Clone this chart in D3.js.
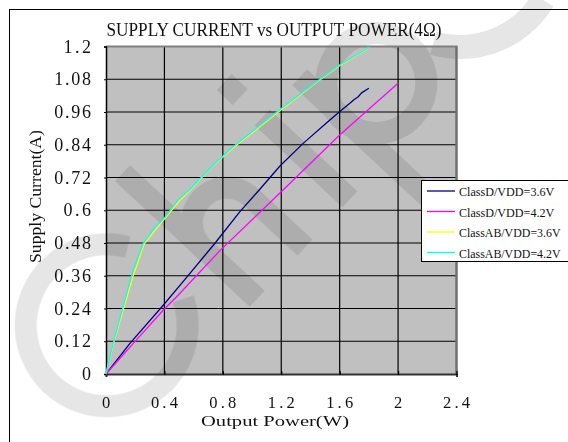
<!DOCTYPE html>
<html><head><meta charset="utf-8">
<script src="https://cdn.jsdelivr.net/npm/d3@7/dist/d3.min.js"></script>
<style>html,body{margin:0;padding:0;background:#fff;overflow:hidden}</style>
</head><body>
<script>
const titleText = "SUPPLY CURRENT vs OUTPUT POWER(4Ω)";
const xTitle = "Output Power(W)";
const yTitle = "Supply Current(A)";
const xTicks = [0, 0.4, 0.8, 1.2, 1.6, 2, 2.4];
const yTicks = [0, 0.12, 0.24, 0.36, 0.48, 0.6, 0.72, 0.84, 0.96, 1.08, 1.2];
const seriesNames = ["ClassD/VDD=3.6V", "ClassD/VDD=4.2V", "ClassAB/VDD=3.6V", "ClassAB/VDD=4.2V"];
const seriesColors = ["#000080", "#ff00ff", "#ffff00", "#00ffff"];

const classD36P = [0, 0.164, 0.392, 0.552, 0.746, 0.917, 1.049, 1.191, 1.35, 1.533, 1.613, 1.67, 1.70, 1.727, 1.75, 1.80];
const classD36I = [0, 0.112, 0.252, 0.354, 0.479, 0.595, 0.674, 0.762, 0.845, 0.931, 0.967, 0.992, 1.006, 1.016, 1.030, 1.047];
const classD42P = [0, 0.187, 0.404, 0.484, 0.78, 1.2, 1.6, 2.0];
const classD42I = [0, 0.112, 0.241, 0.283, 0.452, 0.668, 0.876, 1.065];
const classAB36P = [0, 0.05, 0.18, 0.26, 0.34, 0.40, 0.50, 0.57, 0.73, 0.87, 1.20, 1.44, 1.60, 1.80];
const classAB36I = [0, 0.11, 0.35, 0.475, 0.53, 0.568, 0.633, 0.67, 0.762, 0.828, 0.968, 1.068, 1.13, 1.195];
const classAB42P = [0, 0.05, 0.185, 0.255, 0.335, 0.40, 0.495, 0.57, 0.734, 0.871, 1.202, 1.442, 1.60, 1.807];
const classAB42I = [0, 0.115, 0.38, 0.479, 0.537, 0.572, 0.638, 0.674, 0.766, 0.833, 0.974, 1.071, 1.132, 1.198];

const seriesP = [classD36P, classD42P, classAB36P, classAB42P];
const seriesI = [classD36I, classD42I, classAB36I, classAB42I];

const W = 568, H = 442;
const svg = d3.select("body").append("svg").attr("width", W).attr("height", H);
svg.append("rect").attr("width", W).attr("height", H).attr("fill", "#fff");
svg.append("rect").attr("x", 9.5).attr("y", 9.5).attr("width", 700).attr("height", 600)
  .attr("fill", "none").attr("stroke", "#000").attr("stroke-width", 1);

const x = d3.scaleLinear().domain([0, 2.4]).range([106, 456.5]);
const y = d3.scaleLinear().domain([0, 1.2]).range([374, 46.5]);

// plot background
svg.append("rect").attr("x", x(0)).attr("y", y(1.2)).attr("width", x(2.4) - x(0)).attr("height", y(0) - y(1.2))
  .attr("fill", "#c0c0c0");

// watermark (logo shapes, semi-transparent)
const wmG = svg.append("g").attr("opacity", 0.1);
const wm = wmG.append("g").attr("transform", "translate(174,388) rotate(-47)");
const arcC = d3.arc().innerRadius(70).outerRadius(92).startAngle((90 + 28) * Math.PI / 180).endAngle((90 + 332) * Math.PI / 180);
wm.append("path").attr("transform", "translate(0,-92)").attr("d", arcC()).attr("fill", "#000");
wm.append("rect").attr("x", 111).attr("y", -184).attr("width", 22).attr("height", 184).attr("fill", "#000");
wm.append("rect").attr("x", 181).attr("y", -76).attr("width", 22).attr("height", 76).attr("fill", "#000");
const arcH = d3.arc().innerRadius(24).outerRadius(46).startAngle(-Math.PI / 2).endAngle(Math.PI / 2);
wm.append("path").attr("transform", "translate(157,-74)").attr("d", arcH()).attr("fill", "#000");
wm.append("rect").attr("x", 247).attr("y", -120).attr("width", 22).attr("height", 120).attr("fill", "#000");
wm.append("rect").attr("x", 247).attr("y", -172).attr("width", 22).attr("height", 22).attr("fill", "#000");
wm.append("rect").attr("x", 302).attr("y", -120).attr("width", 22).attr("height", 180).attr("fill", "#000");
const arcP = d3.arc().innerRadius(39).outerRadius(61).startAngle(0).endAngle(2 * Math.PI);
wm.append("path").attr("transform", "translate(361,-60)").attr("d", arcP()).attr("fill", "#000");
const arcS = d3.arc().innerRadius(85).outerRadius(109).startAngle((90 + 31) * Math.PI / 180).endAngle((90 + 106) * Math.PI / 180);
wmG.append("path").attr("transform", "translate(460,-50)").attr("d", arcS()).attr("fill", "#000");

// grid
const grid = svg.append("g");
grid.selectAll(".gx").data(xTicks.slice(1, -1)).join("line")
  .attr("x1", d => x(d)).attr("x2", d => x(d)).attr("y1", y(1.2)).attr("y2", y(0))
  .attr("stroke", "#000").attr("stroke-width", 1.2);
grid.selectAll(".gy").data(yTicks.slice(1, -1)).join("line")
  .attr("x1", x(0)).attr("x2", x(2.4)).attr("y1", d => y(d)).attr("y2", d => y(d))
  .attr("stroke", "#000").attr("stroke-width", 1.2);

// plot border
svg.append("line").attr("x1", x(0)).attr("x2", x(2.4) + 1).attr("y1", y(1.2)).attr("y2", y(1.2)).attr("stroke", "#808080").attr("stroke-width", 2);
svg.append("line").attr("x1", x(2.4)).attr("x2", x(2.4)).attr("y1", y(1.2)).attr("y2", y(0)).attr("stroke", "#707070").attr("stroke-width", 2.5);

// axes
const xAxis = d3.axisBottom(x).tickValues(xTicks).tickSize(3).tickFormat("");
const yAxis = d3.axisLeft(y).tickValues(yTicks).tickSize(2).tickFormat("");
svg.append("g").attr("transform", `translate(0,${y(0)})`).call(xAxis)
  .call(g => g.select(".domain").attr("stroke", "#333").attr("stroke-width", 2))
  .call(g => g.selectAll(".tick line").attr("stroke", "#000").attr("stroke-width", 1.2).attr("y1", -3).attr("y2", 1));
svg.append("g").attr("transform", `translate(${x(0)},0)`).call(yAxis)
  .call(g => g.select(".domain").attr("stroke", "#000").attr("stroke-width", 1.5))
  .call(g => g.selectAll(".tick line").attr("stroke", "#000").attr("stroke-width", 1.2));

const font = "'Liberation Serif', 'DejaVu Serif', serif";
const fmt = d3.format("");
// tick labels (half-width cell per character)
svg.append("g").selectAll("text").data(xTicks).join("text")
  .attr("x", d => x(d)).attr("y", 408).attr("text-anchor", "middle")
  .attr("font-family", font).attr("font-size", 16.5).attr("fill", "#111")
  .attr("textLength", d => fmt(d).length * 9).attr("lengthAdjust", "spacing")
  .text(d => fmt(d));
svg.append("g").selectAll("text").data(yTicks).join("text")
  .attr("x", 91).attr("y", d => y(d) + 6).attr("text-anchor", "end")
  .attr("font-family", font).attr("font-size", 18).attr("fill", "#111")
  .attr("textLength", d => fmt(d).length * 9.2).attr("lengthAdjust", "spacing")
  .text(d => fmt(d));

// titles
svg.append("text").attr("x", 274).attr("y", 36).attr("text-anchor", "middle")
  .attr("font-family", font).attr("font-size", 18).attr("fill", "#111")
  .attr("textLength", 335).attr("lengthAdjust", "spacingAndGlyphs").text(titleText);
svg.append("text").attr("x", 275).attr("y", 425.5).attr("text-anchor", "middle")
  .attr("font-family", font).attr("font-size", 15.5).attr("fill", "#111")
  .attr("textLength", 148).attr("lengthAdjust", "spacingAndGlyphs").text(xTitle);
svg.append("text").attr("transform", "translate(41,196.5) rotate(-90)").attr("text-anchor", "middle")
  .attr("font-family", font).attr("font-size", 17).attr("fill", "#111")
  .attr("textLength", 133).attr("lengthAdjust", "spacingAndGlyphs").text(yTitle);

// series
const line = d3.line().x(d => x(d[0])).y(d => y(d[1]));
seriesP.forEach((ps, k) => {
  const pts = ps.map((p, i) => [p, seriesI[k][i]]);
  svg.append("path").datum(pts).attr("d", line).attr("fill", "none")
    .attr("stroke", seriesColors[k]).attr("stroke-width", 1.3).attr("stroke-linejoin", "round");
});

// legend
const lg = svg.append("g");
lg.append("rect").attr("x", 421.5).attr("y", 180.5).attr("width", 200).attr("height", 81)
  .attr("fill", "#fff").attr("stroke", "#000").attr("stroke-width", 1);
const rowY = [191, 211.5, 232, 252.5];
seriesNames.forEach((n, k) => {
  lg.append("line").attr("x1", 427).attr("x2", 455).attr("y1", rowY[k]).attr("y2", rowY[k])
    .attr("stroke", seriesColors[k]).attr("stroke-width", 1.3);
  lg.append("text").attr("x", 459).attr("y", rowY[k] + 5).attr("font-family", font)
    .attr("font-size", 12).attr("fill", "#111")
    .attr("textLength", n.length * 6.35).attr("lengthAdjust", "spacingAndGlyphs").text(n);
});
</script>
</body></html>
